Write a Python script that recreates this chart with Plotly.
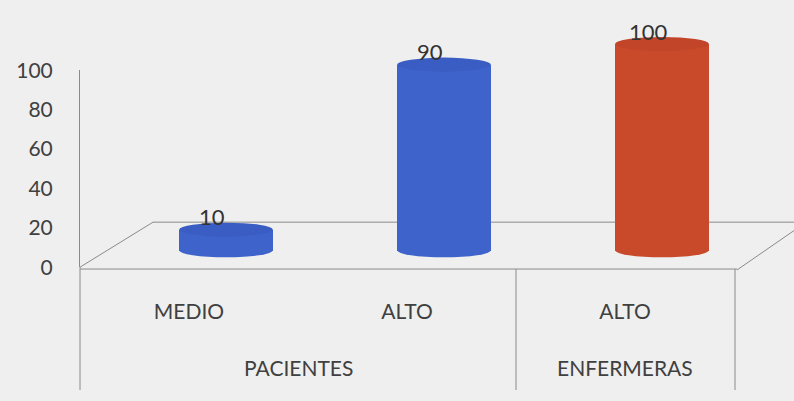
import plotly.graph_objects as go

# ---- data ----
groups = ["PACIENTES", "PACIENTES", "ENFERMERAS"]
levels = ["MEDIO", "ALTO", "ALTO"]
values = [10, 90, 100]
colors = ["#3E63CB", "#3E63CB", "#C94A2B"]
top_colors = ["#3A5DC4", "#3A5DC4", "#C2452A"]
group_names = ["PACIENTES", "ENFERMERAS"]
group_pos = [0.5, 2.0]
y_ticks = [0, 20, 40, 60, 80, 100]

W, H = 794, 401
def fx(p):
    return p / W
def fy(p):
    return 1 - p / H

xs = list(range(len(values)))
bar_w = 0.43
ell_h = 6.8  # ellipse height in value units (bar axis)
px_per_unit = 2.2
bar_lo, bar_hi = -10, 106

fig = go.Figure()
fig.add_trace(go.Bar(
    x=xs, y=values, width=bar_w, marker=dict(color=colors, line=dict(width=0)),
    xaxis="x", yaxis="y", hoverinfo="skip", showlegend=False,
))
fig.add_trace(go.Scatter(
    x=xs, y=[0] * len(xs), xaxis="x2", yaxis="y2", mode="markers",
    marker=dict(opacity=0), hoverinfo="skip", showlegend=False,
))

shapes = []
line_c = "#8a8a8a"
def seg(x0, y0, x1, y1):
    shapes.append(dict(type="line", xref="paper", yref="paper",
                       x0=fx(x0), y0=fy(y0), x1=fx(x1), y1=fy(y1),
                       line=dict(color=line_c, width=1), layer="below"))
seg(80, 270, 153, 222)
seg(153, 222, 794, 222)
seg(80, 272, 737, 272)
seg(737, 273, 794, 231)
seg(80, 270, 80, 401)
seg(516, 272, 516, 401)
seg(735, 272, 735, 401)

for i, v in enumerate(values):
    shapes.append(dict(type="circle", xref="x", yref="y",
                       x0=i - bar_w / 2, x1=i + bar_w / 2,
                       y0=-ell_h / 2, y1=ell_h / 2,
                       fillcolor=colors[i], line=dict(width=0), layer="below"))
    shapes.append(dict(type="circle", xref="x", yref="y",
                       x0=i - bar_w / 2, x1=i + bar_w / 2,
                       y0=v - ell_h / 2, y1=v + ell_h / 2,
                       fillcolor=top_colors[i], line=dict(width=0), layer="above"))

annotations = []
for i, v in enumerate(values):
    annotations.append(dict(x=i, y=v, xref="x", yref="y", text=str(v),
                            showarrow=False, xshift=-14, yshift=13,
                            xanchor="center", yanchor="middle",
                            font=dict(family="Lato", size=22, color="#333333")))
for name, pos in zip(group_names, group_pos):
    annotations.append(dict(x=pos, y=fy(377), xref="x2", yref="paper", text=name,
                            showarrow=False, xanchor="center", yanchor="middle",
                            font=dict(family="Lato", size=21, color="#404040")))

bar_top_px = 252 - (bar_hi - 0) * px_per_unit
bar_bot_px = 252 - (bar_lo - 0) * px_per_unit

fig.update_layout(
    width=W, height=H,
    margin=dict(l=0, r=0, t=0, b=0),
    paper_bgcolor="#efefef", plot_bgcolor="rgba(0,0,0,0)",
    bargap=0,
    shapes=shapes, annotations=annotations,
    xaxis=dict(domain=[fx(80), 1], range=[-0.6697, 2.6055], anchor="y",
               visible=False, fixedrange=True),
    yaxis=dict(domain=[fy(bar_bot_px), fy(bar_top_px)], range=[bar_lo, bar_hi],
               anchor="x", visible=False, fixedrange=True),
    xaxis2=dict(domain=[fx(80), 1], range=[-0.5, 2.775], anchor="y2",
                tickmode="array", tickvals=xs, ticktext=levels,
                ticks="outside", ticklen=26, tickcolor="rgba(0,0,0,0)",
                showline=False, showgrid=False, zeroline=False,
                tickfont=dict(family="Lato", size=21, color="#404040")),
    yaxis2=dict(domain=[fy(270), fy(60)], range=[0, 100], anchor="x2",
                tickmode="array", tickvals=y_ticks,
                ticks="outside", ticklen=22, tickcolor="rgba(0,0,0,0)",
                showline=True, linecolor=line_c, linewidth=1,
                showgrid=False, zeroline=False,
                tickfont=dict(family="Lato", size=21, color="#404040")),
)

fig.write_html("out.html", config={"displayModeBar": False},
               post_script="document.body.style.margin='0';")
